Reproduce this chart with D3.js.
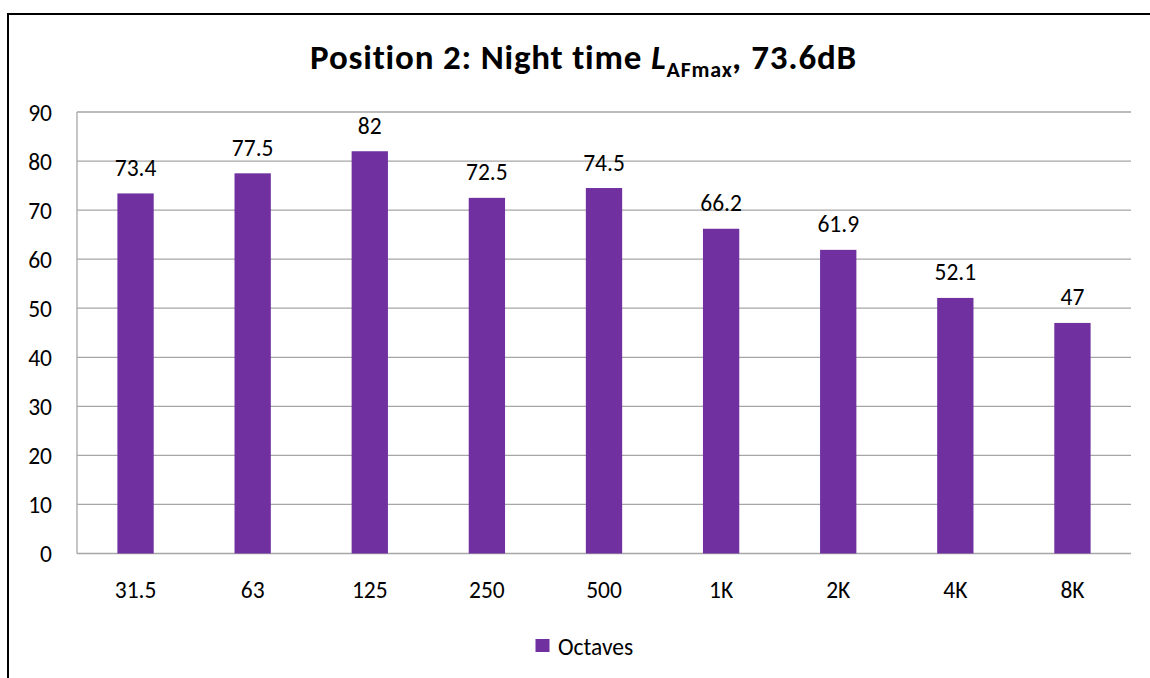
<!DOCTYPE html>
<html><head><meta charset="utf-8">
<script src="https://cdn.jsdelivr.net/npm/d3@7"></script>
<style>
html,body{margin:0;padding:0;background:#fff;}
svg{display:block;font-family:Carlito,Calibri,Lato,"Open Sans",sans-serif;}
</style></head><body>
<script>
const categories = ["31.5","63","125","250","500","1K","2K","4K","8K"];
const values = [73.4,77.5,82,72.5,74.5,66.2,61.9,52.1,47];
const yTicks = [0,10,20,30,40,50,60,70,80,90];
const seriesName = "Octaves";

const W=1150,H=678;
const svg=d3.select("body").append("svg").attr("width",W).attr("height",H);
// border
svg.append("line").attr("x1",8).attr("x2",W).attr("y1",14).attr("y2",14).attr("stroke","#000").attr("stroke-width",2);
svg.append("line").attr("x1",8).attr("x2",8).attr("y1",13).attr("y2",H).attr("stroke","#000").attr("stroke-width",2);

const m={l:77,r:W-1131,t:112,b:H-553.5};
const x=d3.scaleBand().domain(categories).range([m.l,W-m.r]).paddingInner(0.69).paddingOuter(0.345);
const y=d3.scaleLinear().domain([0,90]).range([H-m.b,m.t]);
const FS=23.5;

// grid
svg.append("g").selectAll("line").data(yTicks).join("line")
 .attr("x1",m.l).attr("x2",W-m.r).attr("y1",d=>y(d)).attr("y2",d=>y(d))
 .attr("stroke","#a6a6a6").attr("stroke-width",1.3);
// left axis line
svg.append("line").attr("x1",m.l).attr("x2",m.l).attr("y1",y(90)).attr("y2",y(0)).attr("stroke","#a6a6a6").attr("stroke-width",1.3);
// y labels
svg.append("g").selectAll("text").data(yTicks).join("text")
 .attr("x",52).attr("y",d=>y(d)+8.5).attr("text-anchor","end")
 .attr("font-size",FS).attr("fill","#000").text(d=>d);
// bars
svg.append("g").selectAll("rect").data(values).join("rect")
 .attr("x",(d,i)=>x(categories[i])).attr("width",x.bandwidth())
 .attr("y",d=>y(d)).attr("height",d=>y(0)-y(d)).attr("fill","#7030A0");
// data labels
svg.append("g").selectAll("text").data(values).join("text")
 .attr("x",(d,i)=>x(categories[i])+x.bandwidth()/2).attr("y",d=>y(d)-17.5)
 .attr("text-anchor","middle").attr("font-size",FS).attr("fill","#000").text(d=>d);
// x labels
svg.append("g").selectAll("text").data(categories).join("text")
 .attr("x",d=>x(d)+x.bandwidth()/2).attr("y",y(0)+44.5)
 .attr("text-anchor","middle").attr("font-size",FS).attr("fill","#000").text(d=>d);
// title
const t=svg.append("text").attr("x",583.5).attr("y",69).attr("text-anchor","middle")
 .attr("font-size",35).attr("font-weight","bold").attr("letter-spacing",0.8).attr("fill","#000");
t.append("tspan").text("Position 2: Night time ");
t.append("tspan").attr("font-style","italic").text("L");
t.append("tspan").attr("font-size",22).attr("dy",8).text("AFmax");
t.append("tspan").attr("font-style","italic").attr("dy",-8).text(",");
t.append("tspan").text(" 73.6dB");
// legend
svg.append("rect").attr("x",535.5).attr("y",639).attr("width",14).attr("height",13).attr("fill","#7030A0");
svg.append("text").attr("x",558).attr("y",655).attr("font-size",FS).attr("fill","#000").text(seriesName);
</script>
</body></html>
